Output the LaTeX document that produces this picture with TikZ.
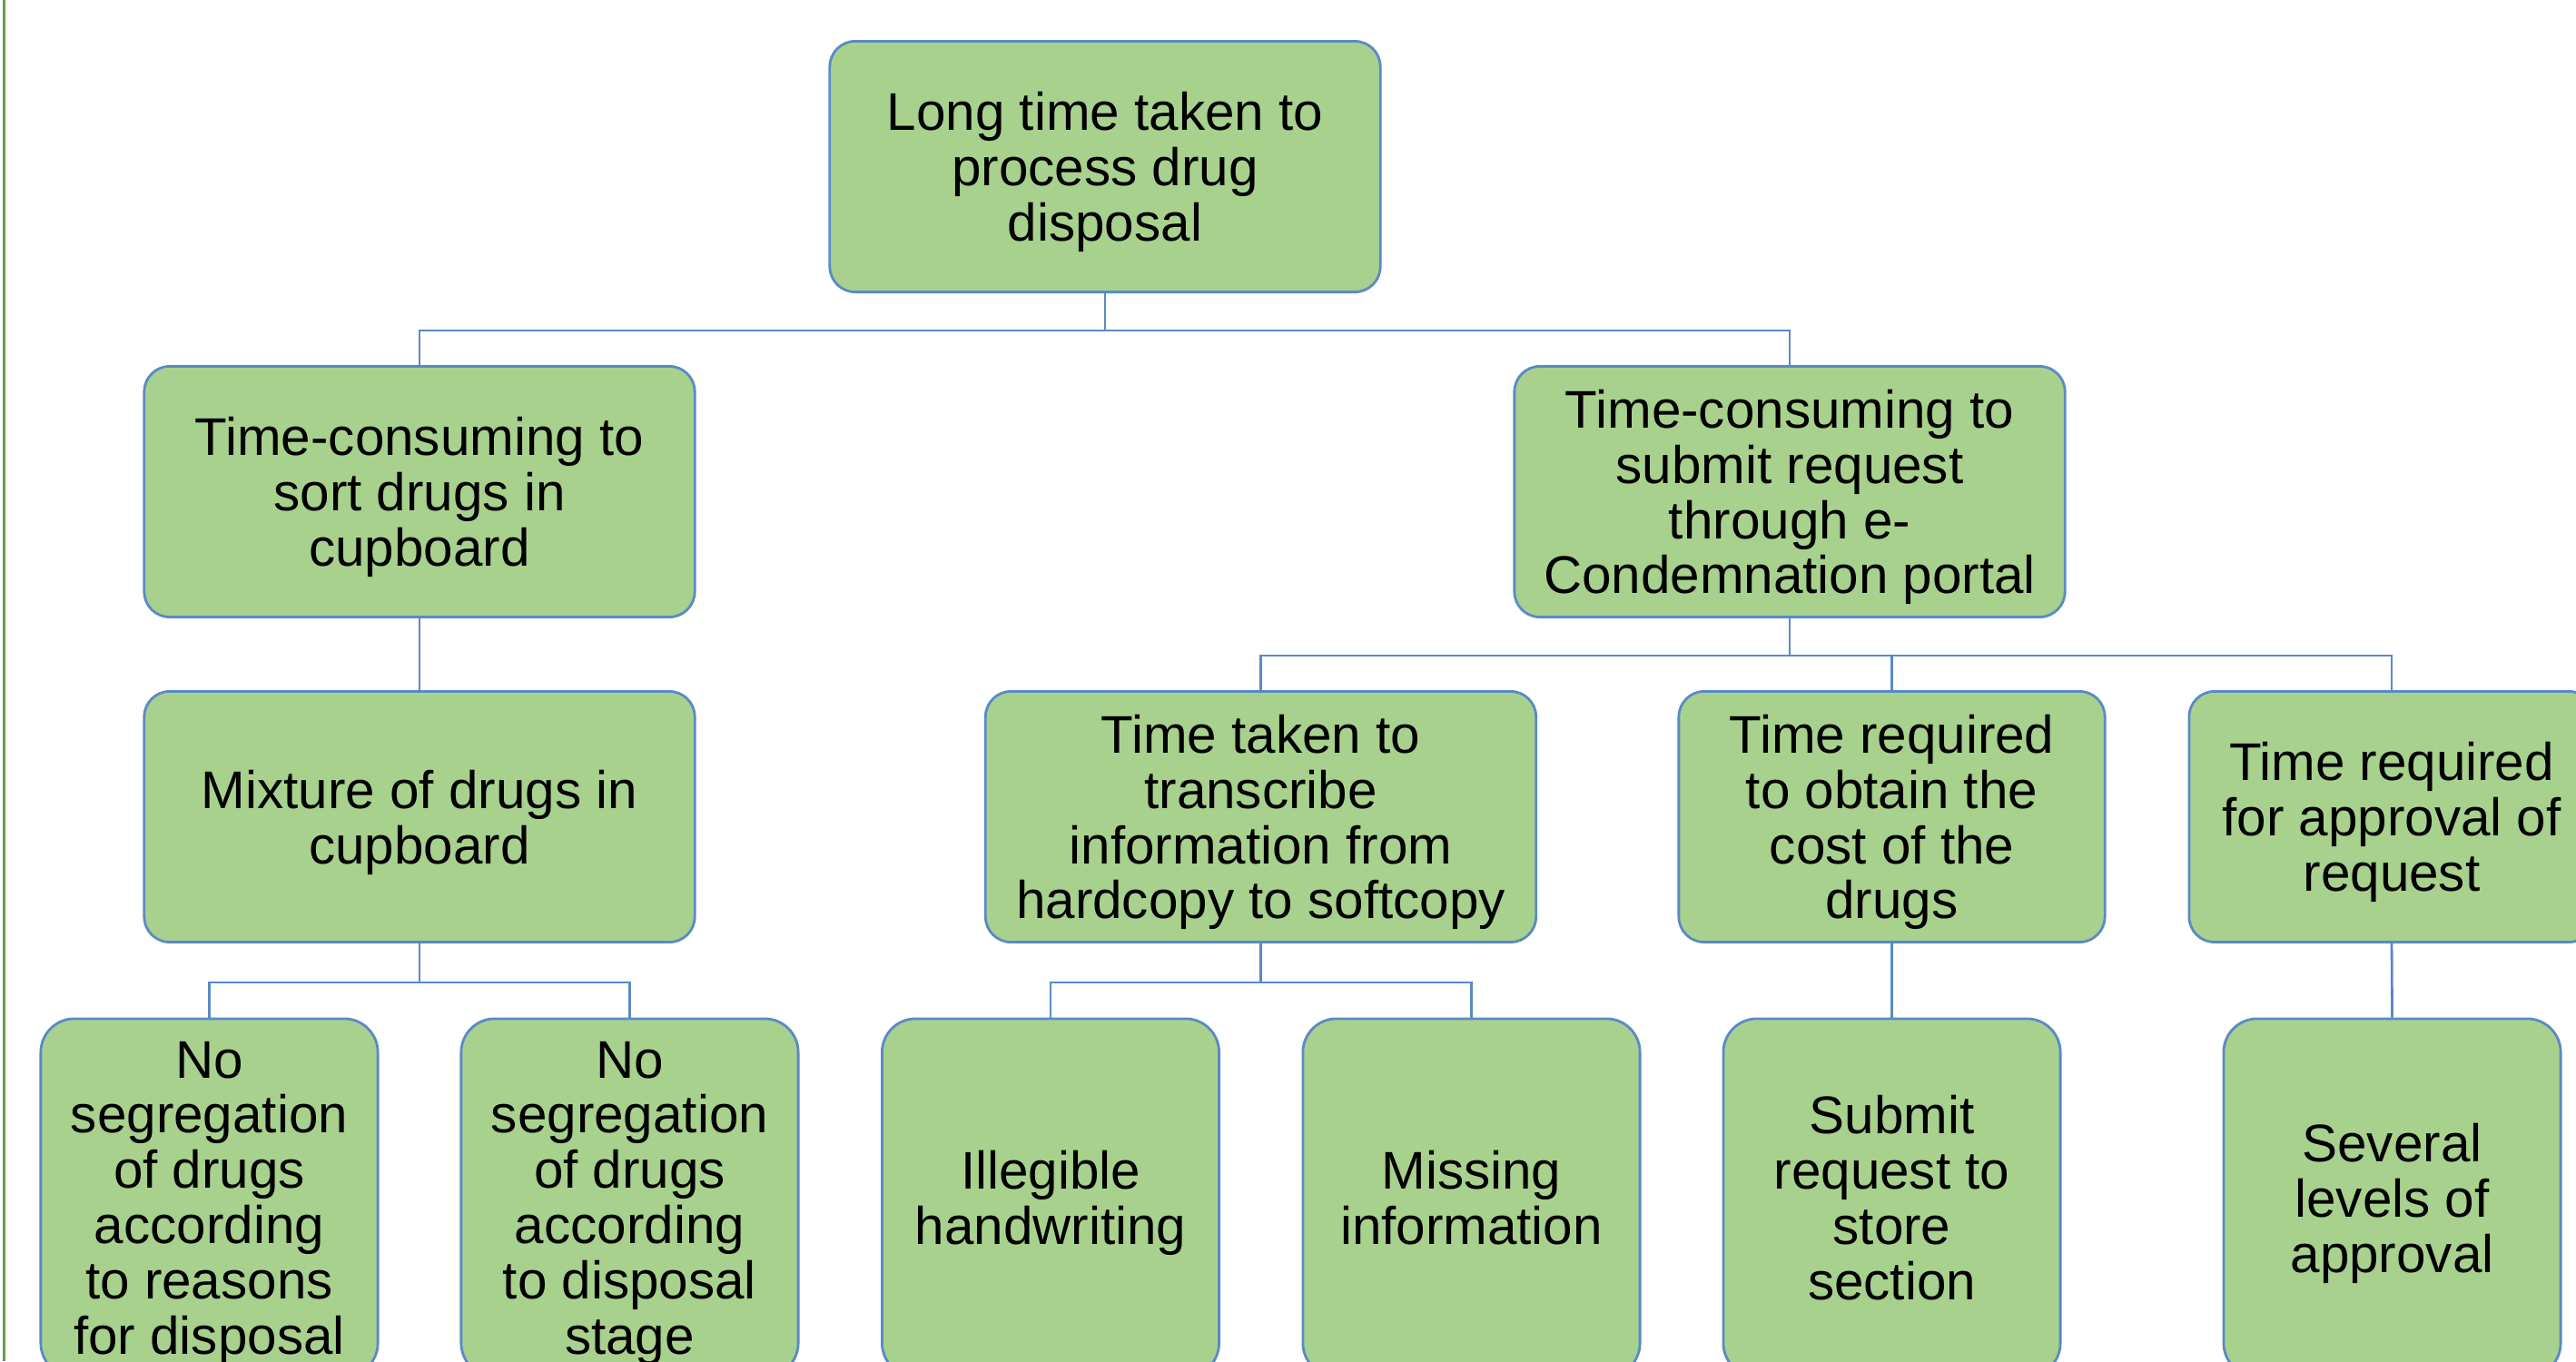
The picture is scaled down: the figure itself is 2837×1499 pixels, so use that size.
\documentclass[tikz,border=0pt]{standalone}
\usepackage{fontspec}
\setmainfont{Liberation Sans}
\usepackage{xcolor}
\definecolor{BoxGreen}{HTML}{A9D18E}
\definecolor{LinkBlue}{HTML}{5A8AC6}
\definecolor{EdgeGreen}{HTML}{629E4A}

\begin{document}
\begin{tikzpicture}[x=0.01cm, y=-0.01cm,
    font=\fontsize{16.6}{17.3}\selectfont,
    cause/.style={draw=LinkBlue, line width=0.8pt, fill=BoxGreen, rounded corners=0.28cm,
                  align=center, inner sep=0pt, text depth=-4pt,
                  minimum width=6.06cm, minimum height=2.76cm},
    leaf/.style={cause, rounded corners=0.37cm, minimum width=3.71cm, minimum height=3.94cm},
    link/.style={draw=LinkBlue, line width=0.8pt}]
    \clip (0,0) rectangle (2837,1499);
    \fill[white] (0,0) rectangle (2837,1499);
    \draw[EdgeGreen, line width=0.03cm] (4.5,0) -- (4.5,1499);

    % problem and first causes
    \node[cause] (problem) at (1217,183.5) {Long time taken to\\process drug\\disposal};
    \node[cause] (sorting) at (462,541.5) {Time-consuming to\\sort drugs in\\cupboard};
    \node[cause] (portal) at (1971,541.5) {Time-consuming to\\submit request\\through e-\\Condemnation portal};

    \draw[link] (problem.south) -- ++(0,41) -| (sorting.north);
    \draw[link] (problem.south) -- ++(0,41) -| (portal.north);

    % second level
    \node[cause] (mixture) at (462,899.5) {Mixture of drugs in\\cupboard};
    \node[cause] (transcribe) at (1388.5,899.5) {Time taken to\\transcribe\\information from\\hardcopy to softcopy};
    \node[cause, minimum width=4.69cm] (cost) at (2083.5,899.5) {Time required\\to obtain the\\cost of the\\drugs};
    \node[cause, minimum width=4.46cm] (approval) at (2634,899.5) {Time required\\for approval of\\request};

    \draw[link] (sorting.south) -- (mixture.north);
    \draw[link] (portal.south) -- ++(0,41) -| (transcribe.north);
    \draw[link] (portal.south) -- ++(0,41) -| (cost.north);
    \draw[link] (portal.south) -- ++(0,41) -| (approval.north);

    % root causes
    \node[leaf] (reasons) at (230.5,1319) {No\\segregation\\of drugs\\according\\to reasons\\for disposal};
    \node[leaf] (stage) at (693.5,1319) {No\\segregation\\of drugs\\according\\to disposal\\stage};
    \node[leaf] (illegible) at (1157,1319) {Illegible\\handwriting};
    \node[leaf] (missing) at (1620.5,1319) {Missing\\information};
    \node[leaf] (store) at (2083.5,1319) {Submit\\request to\\store\\section};
    \node[leaf] (levels) at (2634.5,1319) {Several\\levels of\\approval};

    \draw[link] (mixture.south) -- ++(0,43) -| (reasons.north);
    \draw[link] (mixture.south) -- ++(0,43) -| (stage.north);
    \draw[link] (transcribe.south) -- ++(0,43) -| (illegible.north);
    \draw[link] (transcribe.south) -- ++(0,43) -| (missing.north);
    \draw[link] (cost.south) -- (store.north);
    \draw[link] (approval.south) -- (levels.north);
\end{tikzpicture}
\end{document}
